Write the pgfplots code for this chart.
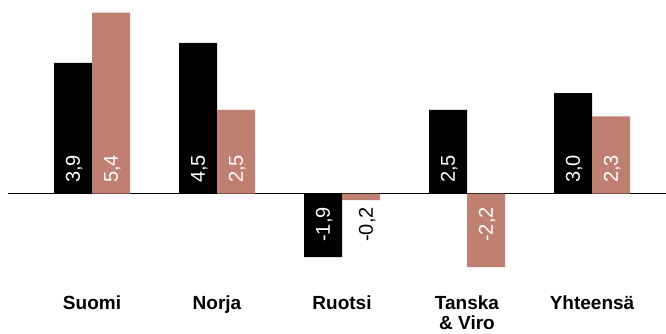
\documentclass[border=0pt]{standalone}
\usepackage{pgfplots}
\usepackage{pgfplotstable}
\pgfplotsset{compat=1.18}
\usepackage{fontspec}
\setmainfont{Liberation Sans}
\definecolor{salmon}{RGB}{191,128,114}

\pgfplotstableread{
x a b
0 3.9 5.4
1 4.5 2.5
2 -1.9 -0.2
3 2.5 -2.2
4 3.0 2.3
}\data
\pgfplotstableread{
x y v
0 0 3.9
1 0 4.5
3 0 2.5
4 0 3.0
}\apos
\pgfplotstableread{
x y v
2 0 -1.9
}\aneg
\pgfplotstableread{
x y v
0 0 5.4
1 0 2.5
4 0 2.3
}\bpos
\pgfplotstableread{
x y v
3 0 -2.2
}\bneg
\pgfplotstableread{
x y v
2 0 -0.2
}\bout

\pgfplotsset{
  vallabel/.style={draw=none, fill=none, point meta=explicit, bar shift=0pt,
    nodes near coords={\pgfmathprintnumber[fixed, fixed zerofill, precision=1, use comma, assume math mode=true]{\pgfplotspointmeta}},
  },
  posl/.style={every node near coord/.style={font=\fontsize{20}{20}\selectfont, text=white, inner sep=0pt, text depth=0pt, xshift=#1, yshift=10.5pt, anchor=west, rotate=90}},
  negl/.style={every node near coord/.style={font=\fontsize{20}{20}\selectfont, text=white, inner sep=0pt, text depth=0pt, xshift=#1, yshift=-13.5pt, anchor=east, rotate=90}},
}

\begin{document}
\begin{tikzpicture}
\useasboundingbox (0,0) rectangle (666pt,333pt);
\begin{axis}[
  at={(8pt,0pt)}, anchor=south west,
  scale only axis, width=658pt, height=333pt,
  xmin=-0.672, xmax=4.592, ymin=-4.164, ymax=5.776,
  ybar, bar width=38pt,
  axis line style={draw=none},
  major tick length=0pt,
  ytick=\empty,
  xtick={0,1,2,3,4},
  xticklabels={Suomi, Norja, Ruotsi, {Tanska\\\& Viro}, Yhteensä},
  xticklabel style={font=\fontsize{19}{19.5}\selectfont\bfseries, align=center, anchor=north, inner sep=0pt, yshift=37pt},
  extra y ticks={0},
  extra y tick labels={},
  extra y tick style={grid=major, major grid style={black, line width=1.2pt}},
  clip=false,
]
\addplot[fill=black, draw=none, bar shift=-19pt] table[x=x, y=a] {\data};
\addplot[fill=salmon, draw=none, bar shift=19pt] table[x=x, y=b] {\data};
\addplot[vallabel, posl=-19pt] table[x=x, y=y, meta=v] {\apos};
\addplot[vallabel, negl=-19pt] table[x=x, y=y, meta=v] {\aneg};
\addplot[vallabel, posl=19pt] table[x=x, y=y, meta=v] {\bpos};
\addplot[vallabel, negl=19pt] table[x=x, y=y, meta=v] {\bneg};
\addplot[vallabel, negl=19pt, every node near coord/.append style={text=black, yshift=-5pt}] table[x=x, y=y, meta=v] {\bout};
\end{axis}
\end{tikzpicture}
\end{document}
